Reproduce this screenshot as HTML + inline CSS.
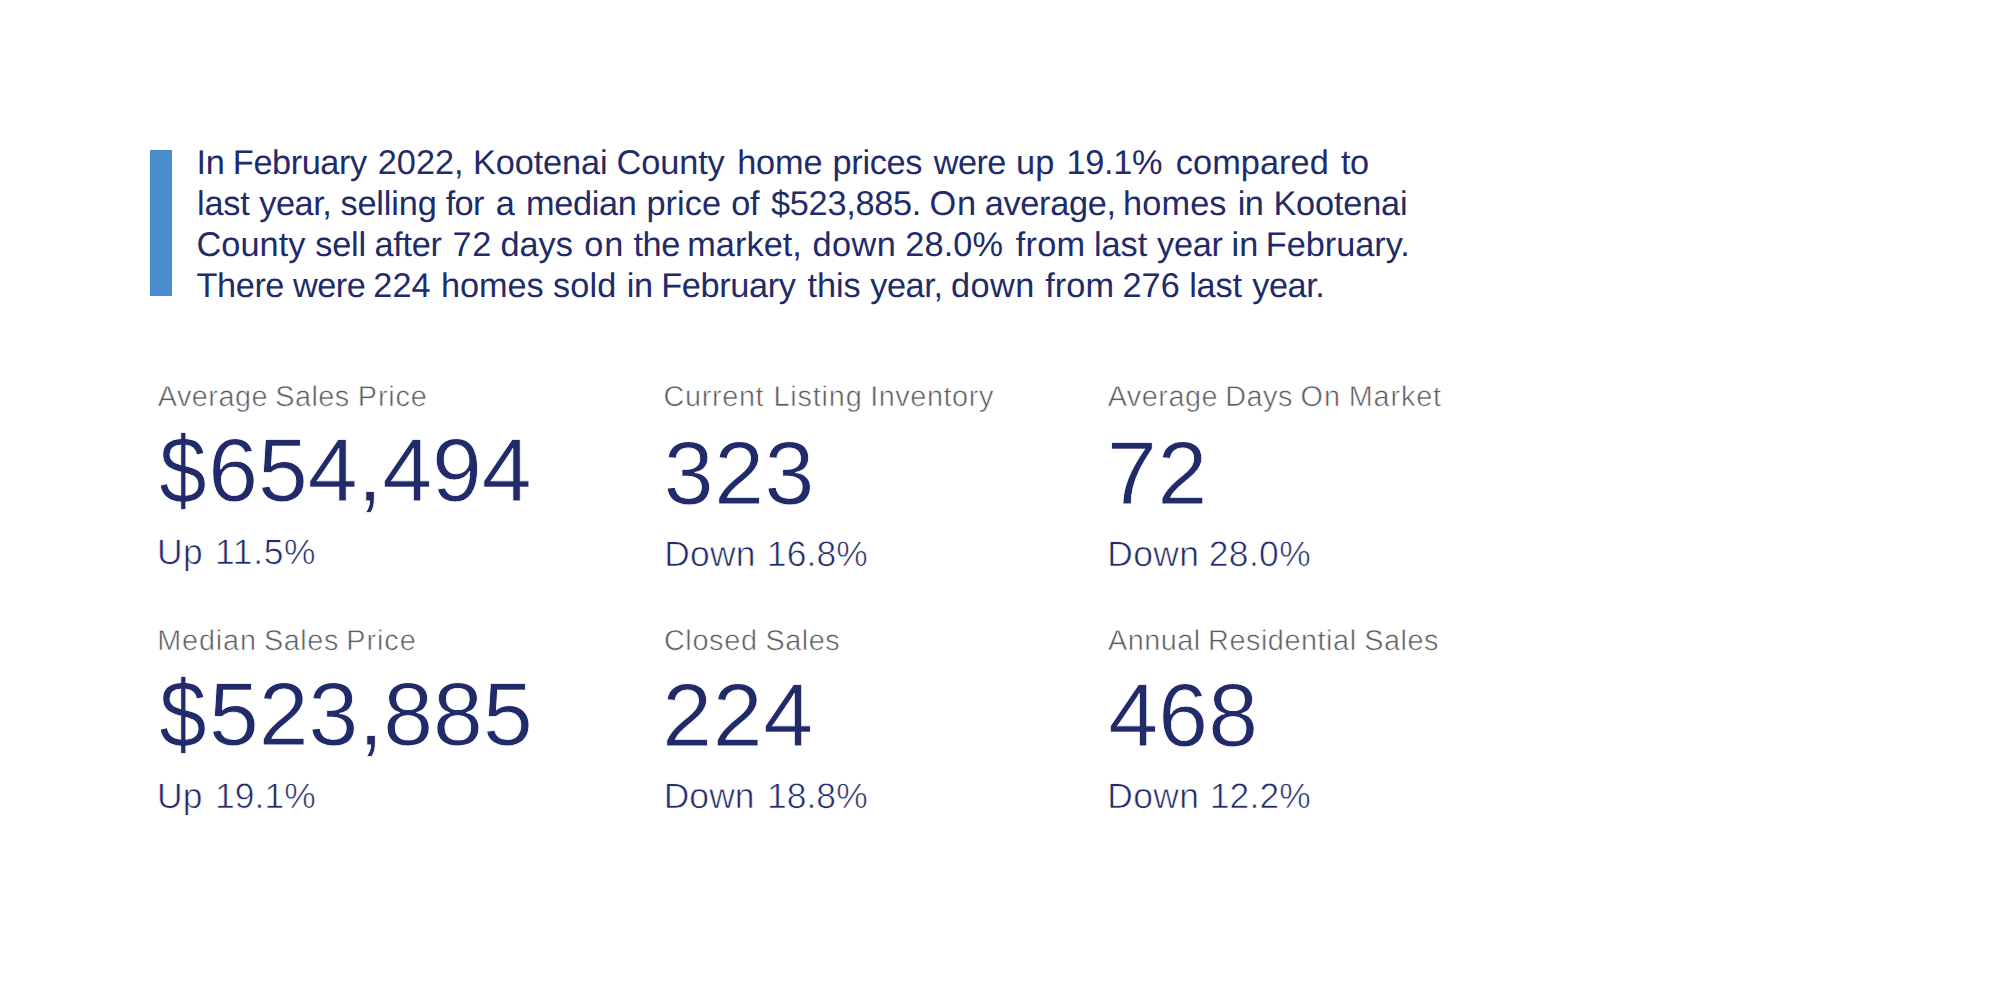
<!DOCTYPE html>
<html lang="en">
<head>
<meta charset="utf-8">
<title>Kootenai County Market Stats</title>
<style>
html,body{margin:0;padding:0;background:#fff;}
body{width:2000px;height:1000px;position:relative;overflow:hidden;font-family:"Liberation Sans",Arial,Helvetica,sans-serif;text-rendering:geometricPrecision;}
.bar{position:absolute;left:150px;top:150px;width:22px;height:146px;background:#4a8dce;}
.t{position:absolute;white-space:pre;margin:0;}
.p{font-size:34.3px;line-height:41px;color:#222b69;}
.lbl{font-size:28.8px;line-height:34px;color:#5c5d5f;-webkit-text-stroke:0.55px #fff;}
.num{font-size:89.5px;line-height:100px;color:#222b69;-webkit-text-stroke:0.8px #fff;}
.d{display:inline-block;transform:translate(-1px,0) scale(0.95,1.065);transform-origin:50% 51.02px;}
.chg{font-size:35.4px;line-height:40px;color:#222b69;-webkit-text-stroke:0.65px #fff;}
</style>
</head>
<body>
<div class="bar"></div>
<div class="t p" id="p1" style="left:196.43px;top:143px"><span style="letter-spacing:-0.22px;word-spacing:-1.05px">In </span><span style="letter-spacing:-0.42px;word-spacing:1.86px">February </span><span style="letter-spacing:0.01px;word-spacing:-0.09px">2022, </span><span style="letter-spacing:-0.13px;word-spacing:-0.31px">Kootenai </span><span style="letter-spacing:-0.09px;word-spacing:3.16px">County </span><span style="letter-spacing:-0.19px;word-spacing:0.91px">home </span><span style="letter-spacing:-0.31px;word-spacing:2.48px">prices </span><span style="letter-spacing:-0.6px;word-spacing:1.19px">were </span><span style="letter-spacing:0.3px;word-spacing:2.02px">up </span><span style="letter-spacing:-0.3px;word-spacing:4.29px">19.1% </span><span style="letter-spacing:0.06px;word-spacing:2.71px">compared </span><span style="letter-spacing:-0.6px">to</span></div>
<div class="t p" id="p2" style="left:197.1px;top:184px"><span style="letter-spacing:-0.21px;word-spacing:0.41px">last </span><span style="letter-spacing:-0.51px;word-spacing:0.2px">year, </span><span style="letter-spacing:-0.12px;word-spacing:-0.56px">selling </span><span style="letter-spacing:-0.6px;word-spacing:2.95px">for </span><span style="letter-spacing:-0.11px;word-spacing:1.94px">a </span><span style="letter-spacing:-0.37px;word-spacing:0.88px">median </span><span style="letter-spacing:0.06px;word-spacing:0.63px">price </span><span style="letter-spacing:-0.27px;word-spacing:2.45px">of </span><span style="letter-spacing:-0.28px;word-spacing:-0.85px">$523,885. </span><span style="letter-spacing:0.8px;word-spacing:-2.54px">On </span><span style="letter-spacing:-0.29px;word-spacing:-1.94px">average, </span><span style="letter-spacing:0.12px;word-spacing:1.4px">homes </span><span style="letter-spacing:-0.6px;word-spacing:1.26px">in </span><span style="letter-spacing:-0.16px">Kootenai</span></div>
<div class="t p" id="p3" style="left:196.57px;top:225px"><span style="letter-spacing:0.02px;word-spacing:0.37px">County </span><span style="letter-spacing:-0.24px;word-spacing:-0.53px">sell </span><span style="letter-spacing:-0.29px;word-spacing:1.54px">after </span><span style="letter-spacing:0.69px;word-spacing:-1.85px">72 </span><span style="letter-spacing:0px;word-spacing:1.86px">days </span><span style="letter-spacing:0.8px;word-spacing:-0.91px">on </span><span style="letter-spacing:-0.43px;word-spacing:-1.69px">the </span><span style="letter-spacing:0.05px;word-spacing:0.87px">market, </span><span style="letter-spacing:0.49px;word-spacing:-1.15px">down </span><span style="letter-spacing:0.14px;word-spacing:2.91px">28.0% </span><span style="letter-spacing:0.24px;word-spacing:-1.08px">from </span><span style="letter-spacing:-0.06px;word-spacing:0.42px">last </span><span style="letter-spacing:-0.25px;word-spacing:-0.59px">year </span><span style="letter-spacing:0.19px;word-spacing:-2.54px">in </span><span style="letter-spacing:-0.01px">February.</span></div>
<div class="t p" id="p4" style="left:196.61px;top:266px"><span style="letter-spacing:-0.44px;word-spacing:-0.23px">There </span><span style="letter-spacing:-0.44px;word-spacing:-1.23px">were </span><span style="letter-spacing:0.08px;word-spacing:0.63px">224 </span><span style="letter-spacing:-0.06px;word-spacing:-0.07px">homes </span><span style="letter-spacing:0.15px;word-spacing:0.46px">sold </span><span style="letter-spacing:-0.38px;word-spacing:-0.59px">in </span><span style="letter-spacing:-0.35px;word-spacing:2.63px">February </span><span style="letter-spacing:-0.09px;word-spacing:0.3px">this </span><span style="letter-spacing:-0.41px;word-spacing:-0.74px">year, </span><span style="letter-spacing:0.45px;word-spacing:0.62px">down </span><span style="letter-spacing:0.03px;word-spacing:-1.15px">from </span><span style="letter-spacing:0.03px;word-spacing:-0.17px">276 </span><span style="letter-spacing:-0.16px;word-spacing:1.08px">last </span><span style="letter-spacing:-0.48px">year.</span></div>
<div class="t lbl" id="l1" style="left:157.8px;top:380px"><span style="letter-spacing:0.48px;word-spacing:-1.17px">Average </span><span style="letter-spacing:0.47px;word-spacing:-0.22px">Sales </span><span style="letter-spacing:0.81px">Price</span></div>
<div class="t num" id="n1" style="left:158.64px;top:420px;letter-spacing:-0.07px"><span class="d">$</span>654,494</div>
<div class="t chg" id="c1" style="left:156.92px;top:532px"><span style="letter-spacing:0.66px;word-spacing:1.02px">Up </span><span style="letter-spacing:0.71px">11.5%</span></div>
<div class="t lbl" id="l2" style="left:663.58px;top:380px"><span style="letter-spacing:0.66px;word-spacing:0.53px">Current </span><span style="letter-spacing:0.84px;word-spacing:-1.26px">Listing </span><span style="letter-spacing:0.59px">Inventory</span></div>
<div class="t num" id="n2" style="left:663.79px;top:423px;letter-spacing:0.61px">323</div>
<div class="t chg" id="c2" style="left:664.28px;top:534px"><span style="letter-spacing:0.25px;word-spacing:1.02px">Down </span><span style="letter-spacing:0.12px">16.8%</span></div>
<div class="t lbl" id="l3" style="left:1107.64px;top:380px"><span style="letter-spacing:0.53px;word-spacing:-1.46px">Average </span><span style="letter-spacing:0.56px;word-spacing:-1.08px">Days </span><span style="letter-spacing:1.02px;word-spacing:-1.22px">On </span><span style="letter-spacing:0.85px">Market</span></div>
<div class="t num" id="n3" style="left:1107.01px;top:423px;letter-spacing:0.63px">72</div>
<div class="t chg" id="c3" style="left:1107.22px;top:534px"><span style="letter-spacing:0.42px;word-spacing:-0.81px">Down </span><span style="letter-spacing:0.36px">28.0%</span></div>
<div class="t lbl" id="l4" style="left:157.13px;top:624px"><span style="letter-spacing:0.88px;word-spacing:-1.77px">Median </span><span style="letter-spacing:0.59px;word-spacing:-1.3px">Sales </span><span style="letter-spacing:0.95px">Price</span></div>
<div class="t num" id="n4" style="left:159.24px;top:664px;letter-spacing:0.02px"><span class="d">$</span>523,885</div>
<div class="t chg" id="c4" style="left:157.02px;top:776px"><span style="letter-spacing:0.28px;word-spacing:1.98px">Up </span><span style="letter-spacing:0.1px">19.1%</span></div>
<div class="t lbl" id="l5" style="left:663.89px;top:624px"><span style="letter-spacing:0.68px;word-spacing:-0.67px">Closed </span><span style="letter-spacing:0.47px">Sales</span></div>
<div class="t num" id="n5" style="left:662.3px;top:665px;letter-spacing:0.7px">224</div>
<div class="t chg" id="c5" style="left:663.63px;top:776px"><span style="letter-spacing:0.15px;word-spacing:2.21px">Down </span><span style="letter-spacing:0.09px">18.8%</span></div>
<div class="t lbl" id="l6" style="left:1108.02px;top:624px"><span style="letter-spacing:0.51px;word-spacing:-1.2px">Annual </span><span style="letter-spacing:0.55px;word-spacing:-0.85px">Residential </span><span style="letter-spacing:0.5px">Sales</span></div>
<div class="t num" id="n6" style="left:1108.15px;top:665px;letter-spacing:0.31px">468</div>
<div class="t chg" id="c6" style="left:1107.34px;top:776px"><span style="letter-spacing:0.34px;word-spacing:0.43px">Down </span><span style="letter-spacing:0.15px">12.2%</span></div>
</body>
</html>
